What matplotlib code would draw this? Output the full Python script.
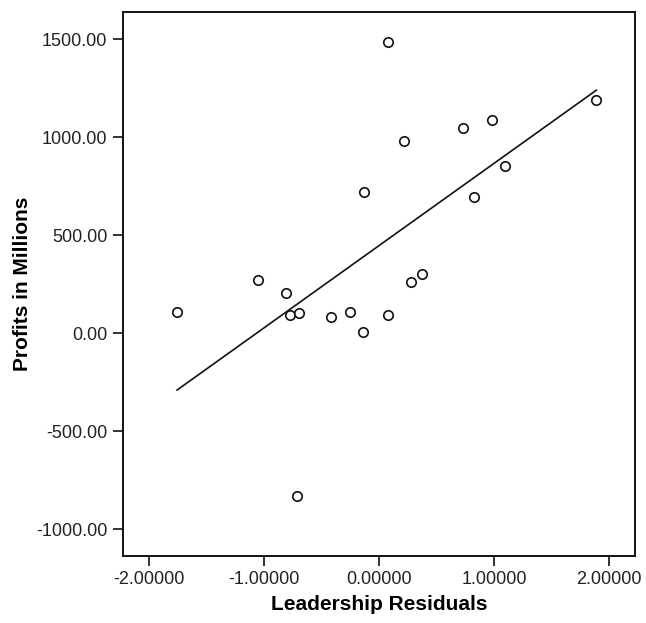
import numpy as np
import matplotlib
matplotlib.use("Agg")
import matplotlib.pyplot as plt
from matplotlib.ticker import FormatStrFormatter

plt.rcParams['font.family'] = ['Liberation Sans', 'DejaVu Sans']

leadership_residuals = [0.081, 1.890, 0.983, 0.728, 0.215, 1.093, -0.128, 0.826,
                        -1.055, -0.806, -1.757, -0.774, -0.696, -0.415, -0.252,
                        -0.136, 0.075, 0.275, 0.377, -0.716]
profits_millions = [1488, 1189, 1087, 1046, 981, 852, 722, 697,
                    270, 204, 110, 93, 102, 85, 109,
                    7, 93, 262, 304, -830]
x_ticks = [-2, -1, 0, 1, 2]
y_ticks = [-1000, -500, 0, 500, 1000, 1500]

fig = plt.figure(figsize=(6.46, 6.23), dpi=100)
L, R, T, B = 122.7, 635.0, 11.7, 555.5
ax = fig.add_axes([L/646, 1 - B/623, (R-L)/646, (B-T)/623])

x = np.array(leadership_residuals)
y = np.array(profits_millions)
ax.plot(x, y, linestyle='none', marker='o', markersize=6.8, markerfacecolor='white',
        markeredgecolor='#111111', markeredgewidth=1.2)

slope, intercept = np.polyfit(x, y, 1)
xl = np.array([x.min(), x.max()])
ax.plot(xl, slope * xl + intercept, color='#111111', linewidth=1.2)

ax.set_xlim(-2.23, 2.226)
ax.set_ylim(-1134, 1641)
ax.set_xticks(x_ticks)
ax.set_yticks(y_ticks)
ax.xaxis.set_major_formatter(FormatStrFormatter('%.5f'))
ax.yaxis.set_major_formatter(FormatStrFormatter('%.2f'))
ax.tick_params(axis='both', direction='out', length=7, width=1.2, colors='#111111',
               labelsize=13, labelcolor='#222222', pad=4)
for s in ax.spines.values():
    s.set_linewidth(1.4)
    s.set_color('#111111')

ax.set_xlabel('Leadership Residuals', fontsize=15, fontweight='bold')
ax.set_ylabel('Profits in Millions', fontsize=15, fontweight='bold')
ax.xaxis.set_label_coords(0.5, -(604 - B) / (B - T), transform=ax.transAxes)
ax.yaxis.set_label_coords((23 - L) / (R - L), 0.5, transform=ax.transAxes)
ax.xaxis.label.set_va('center')
ax.yaxis.label.set_va('center')

fig.savefig('out.png', dpi=100)
